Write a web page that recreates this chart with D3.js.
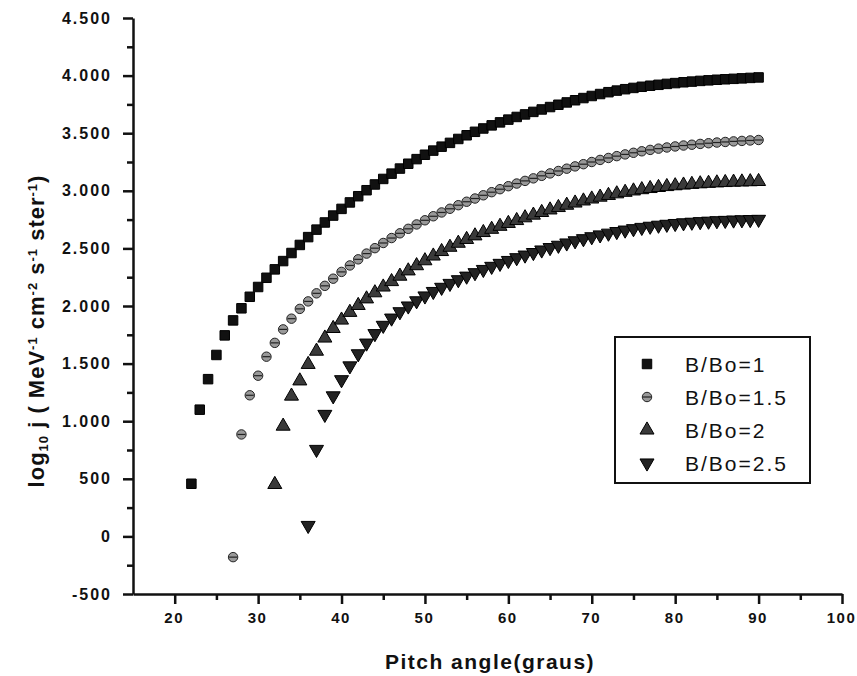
<!DOCTYPE html>
<script src="https://cdn.jsdelivr.net/npm/d3@7/dist/d3.min.js"></script>
<style>
    body { margin: 0; background: #fff; }
    svg text { font-family: "Liberation Sans", Arial, sans-serif; }
</style>
<svg id="chart" width="857" height="676"></svg>
<script>
    // pitch angle of first point for each series, one point per degree
    var startPitch = [22, 27, 32, 36];
    var seriesNames = ["B/Bo=1", "B/Bo=1.5", "B/Bo=2", "B/Bo=2.5"];

    var s1 = [457, 1100, 1365, 1575, 1745, 1875, 1980, 2080, 2165, 2245,
        2318, 2390, 2460, 2530, 2598, 2663, 2725, 2785, 2843, 2899,
        2953, 3005, 3055, 3103, 3149, 3193, 3235, 3275, 3313, 3349,
        3383, 3416, 3450, 3482, 3512, 3541, 3568, 3594, 3618, 3641,
        3663, 3685, 3706, 3727, 3747, 3767, 3786, 3805, 3823, 3840,
        3856, 3870, 3882, 3893, 3903, 3912, 3920, 3928, 3935, 3942,
        3948, 3954, 3959, 3964, 3968, 3972, 3976, 3980, 3984];
    var s2 = [-180, 885, 1225, 1395, 1560, 1680, 1797, 1890, 1975, 2040,
        2110, 2175, 2237, 2296, 2352, 2405, 2455, 2502, 2547, 2590,
        2631, 2670, 2708, 2744, 2779, 2812, 2844, 2875, 2905, 2933,
        2961, 2988, 3014, 3040, 3063, 3086, 3108, 3130, 3151, 3172,
        3192, 3212, 3231, 3250, 3268, 3285, 3301, 3316, 3330, 3343,
        3355, 3366, 3376, 3385, 3393, 3400, 3407, 3413, 3419, 3424,
        3429, 3433, 3437, 3441];
    var s3 = [451, 957, 1218, 1350, 1493, 1608, 1722, 1805, 1878, 1945,
        2005, 2062, 2115, 2165, 2212, 2259, 2305, 2350, 2393, 2434,
        2473, 2510, 2545, 2578, 2609, 2638, 2666, 2692, 2717, 2742,
        2766, 2789, 2812, 2834, 2855, 2875, 2894, 2912, 2929, 2945,
        2960, 2974, 2987, 2999, 3010, 3020, 3029, 3037, 3044, 3050,
        3056, 3061, 3065, 3069, 3072, 3075, 3077, 3079, 3081];
    var s4 = [95, 755, 1059, 1220, 1360, 1480, 1585, 1678, 1760, 1832,
        1895, 1950, 2000, 2045, 2087, 2126, 2162, 2196, 2228, 2259,
        2289, 2317, 2344, 2370, 2395, 2419, 2442, 2464, 2486, 2507,
        2527, 2547, 2566, 2584, 2601, 2617, 2632, 2646, 2659, 2671,
        2682, 2692, 2701, 2709, 2716, 2722, 2727, 2732, 2736, 2740,
        2743, 2746, 2748, 2750, 2752];

    var xTicks = [20, 30, 40, 50, 60, 70, 80, 90, 100];
    var yTicks = [-500, 0, 500, 1000, 1500, 2000, 2500, 3000, 3500, 4000, 4500];
    var yTickLabels = ["-500", "0", "500", "1.000", "1.500", "2.000", "2.500", "3.000", "3.500", "4.000", "4.500"];

    var svg = d3.select("#chart");

    var x = d3.scaleLinear().domain([15, 100]).range([133, 842]);
    var y = d3.scaleLinear().domain([-500, 4500]).range([594, 18]);

    // axes
    svg.append("g")
        .attr("class", "xaxis")
        .attr("transform", "translate(0," + y(-500) + ")")
        .call(d3.axisBottom(x).tickValues(xTicks).tickSize(10).tickPadding(8).tickSizeOuter(0));
    svg.append("g")
        .attr("transform", "translate(0," + y(-500) + ")")
        .call(d3.axisBottom(x).tickValues(d3.range(25, 100, 10)).tickSize(6).tickFormat("").tickSizeOuter(0))
        .select(".domain").remove();

    svg.append("g")
        .attr("transform", "translate(" + x(15) + ",0)")
        .call(d3.axisLeft(y).tickValues(yTicks).tickSize(10).tickPadding(11).tickSizeOuter(0)
            .tickFormat(function(d, i) { return yTickLabels[i]; }));
    svg.append("g")
        .attr("transform", "translate(" + x(15) + ",0)")
        .call(d3.axisLeft(y).tickValues(d3.range(-250, 4500, 500)).tickSize(6).tickFormat("").tickSizeOuter(0))
        .select(".domain").remove();

    svg.selectAll(".domain, .tick line")
        .attr("stroke", "#111")
        .attr("stroke-width", 2.5);
    svg.selectAll(".tick text")
        .attr("fill", "#111")
        .style("font-size", "16px")
        .style("font-weight", "bold")
        .style("letter-spacing", "2px");
    svg.selectAll(".xaxis .tick text")
        .style("font-size", "15px")
        .style("letter-spacing", "1.5px")
        .attr("dx", "-1");

    // axis titles
    svg.append("text")
        .attr("x", 490)
        .attr("y", 669)
        .attr("text-anchor", "middle")
        .style("font-size", "21px")
        .style("font-weight", "bold")
        .style("letter-spacing", "1.5px")
        .attr("fill", "#111")
        .text("Pitch angle(graus)");

    var yt = svg.append("text")
        .attr("transform", "translate(44,331) rotate(-90)")
        .attr("text-anchor", "middle")
        .style("font-size", "22px")
        .style("font-weight", "bold")
        .style("letter-spacing", "1px")
        .attr("fill", "#111");
    yt.append("tspan").text("log");
    yt.append("tspan").attr("baseline-shift", "-30%").style("font-size", "13px").text("10");
    yt.append("tspan").text(" j ( MeV");
    yt.append("tspan").attr("baseline-shift", "super").style("font-size", "13px").text("-1");
    yt.append("tspan").text(" cm");
    yt.append("tspan").attr("baseline-shift", "super").style("font-size", "13px").text("-2");
    yt.append("tspan").text(" s");
    yt.append("tspan").attr("baseline-shift", "super").style("font-size", "13px").text("-1");
    yt.append("tspan").text(" ster");
    yt.append("tspan").attr("baseline-shift", "super").style("font-size", "13px").text("-1");
    yt.append("tspan").text(")");

    // marker styles
    var markers = [
        { type: d3.symbolSquare, size: 90, fill: "#111", stroke: "#000" },
        { type: d3.symbolCircle, size: 70, fill: "#999", stroke: "#222" },
        { type: d3.symbolTriangle, size: 85, fill: "#3a3a3a", stroke: "#000" },
        { type: d3.symbolTriangle, size: 85, fill: "#222", stroke: "#000", flip: true }
    ];

    function drawMarker(g, m) {
        g.append("path")
            .attr("d", d3.symbol().type(m.type).size(m.size))
            .attr("transform", m.flip ? "rotate(180)" : null)
            .attr("fill", m.fill)
            .attr("stroke", m.stroke)
            .attr("stroke-width", 1);
        if (m.type === d3.symbolCircle) {
            g.append("line")
                .attr("x1", -4).attr("x2", 4)
                .attr("stroke", "#222").attr("stroke-width", 1.2);
        }
    }

    var allSeries = [s1, s2, s3, s4];

    allSeries.forEach(function(vals, k) {
        var data = vals.map(function(v, i) { return { p: startPitch[k] + i, v: v }; });
        svg.append("g").selectAll("g")
            .data(data)
            .enter().append("g")
            .attr("transform", function(d) { return "translate(" + x(d.p) + "," + y(d.v) + ")"; })
            .each(function() { drawMarker(d3.select(this), markers[k]); });
    });

    // legend
    var legend = svg.append("g").attr("transform", "translate(615,337)");
    legend.append("rect")
        .attr("width", 195)
        .attr("height", 146)
        .attr("fill", "#fff")
        .attr("stroke", "#111")
        .attr("stroke-width", 2);
    seriesNames.forEach(function(name, k) {
        var row = legend.append("g").attr("transform", "translate(32," + (27 + k * 33) + ")");
        drawMarker(row, markers[k]);
        row.append("text")
            .attr("x", 38)
            .attr("dy", "0.36em")
            .style("font-size", "21px")
            .style("letter-spacing", "2px")
            .attr("fill", "#111")
            .text(name);
    });
</script>
